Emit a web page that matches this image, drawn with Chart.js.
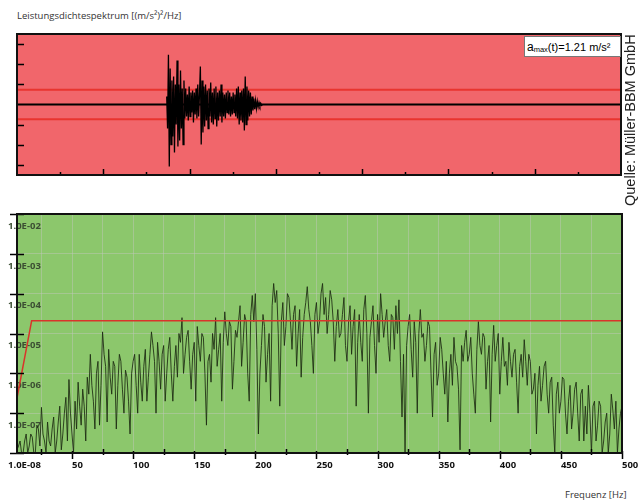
<!DOCTYPE html>
<html>
<head>
<meta charset="utf-8">
<script src="https://cdn.jsdelivr.net/npm/chart.js@4.4.0/dist/chart.umd.min.js"></script>
<style>
  body { margin: 0; background: #fff; }
  #page { position: relative; width: 638px; height: 502px; overflow: hidden; font-family: "Open Sans", sans-serif; }
  #title { position: absolute; left: 17px; top: 11px; font-size: 9.5px; color: #333; line-height: 1; white-space: nowrap; }
  #xlabel { position: absolute; left: 565px; top: 490px; font-size: 9.5px; color: #333; line-height: 1; }
  #source { position: absolute; left: 622px; top: 206px; transform: rotate(-90deg); transform-origin: 0 0;
            white-space: nowrap; font: 14.5px "Liberation Sans", Arial, sans-serif; line-height: 16px; color: #222; }
  #legend { position: absolute; left: 524px; top: 36px; width: 97px; height: 21px; box-sizing: border-box; z-index: 2;
            background: #fff; border: 1px solid #777; font: 11px "Liberation Sans", Arial, sans-serif;
            padding: 3px 0 0 2px; color: #000; white-space: nowrap; }
  #legend sub { font-size: 7.5px; vertical-align: baseline; position: relative; top: 1px; }
  canvas { position: absolute; left: 0; }
</style>
</head>
<body>
<div id="page">
  <div id="title">Leistungsdichtespektrum [(m/s²)²/Hz]</div>
  <canvas id="signal" width="638" height="152" style="top:28px"></canvas>
  <div id="legend"><span style="font-size:12px">a</span><sub>max</sub>(t)=1.21 m/s²</div>
  <canvas id="psd" width="638" height="282" style="top:200px"></canvas>
  <div id="xlabel">Frequenz [Hz]</div>
  <div id="source">Quelle: Müller-BBM GmbH</div>
</div>
<script>
// --- Zeitsignal (oben) ---
const sigStart = 3.47;   // s
const sigStep = 0.02;    // s
const sigValues = [
  0.2, -0.6, 1.24, -1.55,
  0.9, -1.0, 0.6, -0.8, 0.7, -1.2, 0.5,
  -0.5, 1.1, -1.05, 0.5, -0.9, 0.85, -0.6, 0.4, -1.0, 0.6,
  -0.35, 0.4, -0.3, 0.25, -0.4, 0.45, -0.3, 0.3, -0.2, 0.35, -0.45, 0.3, -0.25, 0.4, -0.35, 0.5, -0.3, 0.25,
  0.95, -1.0, 0.6, -0.7,
  0.45, -0.55, 0.5, -0.4, 0.35, -0.6, 0.4, -0.3, 0.55, -0.45, 0.3, -0.5, 0.4, -0.35, 0.45, -0.55, 0.3, -0.4, 0.35, -0.3, 0.5, -0.45, 0.3,
  -0.3, 0.25, -0.35, 0.3, -0.2, 0.35, -0.25, 0.3, -0.3, 0.2, -0.25, 0.3, -0.2, 0.25, -0.3,
  0.4, -0.35, 0.45, -0.5, 0.3, -0.4, 0.35, -0.45, 0.4, -0.65, 0.7, -0.5, 0.45, -0.4, 0.35, -0.3, 0.3, -0.25, 0.2,
  -0.15, 0.15, -0.12, 0.1, -0.1, 0.08, -0.06, 0.05, -0.04, 0.03, -0.02, 0
];
const accLimit = 0.37;
const timeMax = 14;
const timeTicks = [1, 2, 3, 4, 5, 6, 7, 8, 9, 10, 11, 12, 13];
const accTicks = [-1.5, -1, -0.5, 0.5, 1, 1.5];

// --- Leistungsdichtespektrum (unten) ---
const specStart = 5;     // Hz
const specStep = 1.25;   // Hz
const specValues = [
  1.2e-8, 1.5e-8, 2e-8, 1e-8, 1e-8, 2e-8, 3e-8, 1e-8,
  1.5e-8, 3e-8, 2.5e-8, 1e-8, 1e-8, 5e-8, 4e-8, 1.5e-8,
  1.4e-7, 3e-8, 2e-8, 1e-8, 6e-8, 2e-8, 1.5e-8, 4e-8,
  8e-8, 1e-8, 2e-8, 6e-8, 1.5e-7, 1.2e-8, 3e-8, 1e-7,
  2.5e-7, 2e-8, 7e-7, 1e-7, 3e-8, 1e-8, 2e-7, 4e-8,
  6e-7, 1.5e-7, 5e-8, 4e-7, 1.5e-7, 2e-8, 8e-7, 3e-7,
  3e-6, 5e-7, 2e-7, 4e-8, 1e-6, 2e-6, 5e-8, 5e-7,
  1.1e-5, 3e-6, 1.5e-6, 6e-8, 4e-6, 8e-7, 3e-7, 2e-6,
  1.5e-6, 4e-8, 5e-7, 3e-6, 2e-6, 4e-7, 1e-7, 1.2e-6,
  8e-7, 2e-7, 3e-8, 1e-6, 2e-6, 3e-6, 5e-7, 1e-7,
  3e-6, 6e-7, 2e-7, 1.5e-6, 4e-6, 2e-7, 8e-7, 3e-6,
  1.1e-5, 5e-6, 2e-6, 1e-7, 6e-6, 2e-6, 4e-7, 3e-6,
  5e-6, 2e-7, 1e-6, 4e-6, 8e-6, 1e-6, 2e-7, 1.5e-6,
  5e-6, 8e-7, 1e-5, 6e-6, 2.5e-5, 1e-6, 3e-6, 8e-6,
  1.2e-5, 2e-6, 4e-7, 3e-6, 6e-6, 2e-7, 1.5e-5, 5e-6,
  2e-6, 1e-5, 8e-6, 1e-6, 5e-8, 2e-6, 3e-6, 6e-7,
  1e-5, 4e-6, 2.5e-5, 1.5e-6, 4e-6, 1e-5, 2e-7, 6e-6,
  3.5e-5, 1e-5, 5e-6, 2e-5, 1.5e-5, 4e-7, 2e-6, 1.2e-5,
  8e-6, 2e-5, 5e-5, 1.5e-6, 6e-6, 3e-5, 2e-5, 1e-6,
  2e-7, 3e-5, 9e-5, 2e-5, 1e-4, 4e-6, 3e-8, 1e-6,
  5e-6, 3e-5, 1.5e-5, 6e-7, 3e-6, 1e-5, 2e-7, 5e-5,
  1.8e-4, 6e-5, 1.2e-4, 1e-5, 1.5e-7, 2e-5, 6e-5, 5e-6,
  1.5e-5, 1e-4, 8e-5, 2e-5, 4e-6, 3e-5, 5e-5, 1.5e-6,
  1e-5, 4e-5, 8e-7, 8e-6, 3e-5, 6e-5, 1.5e-4, 4e-5,
  2e-5, 5e-6, 1e-6, 3e-5, 6e-5, 1e-5, 2e-5, 1e-4,
  1.8e-4, 3e-5, 8e-5, 1e-5, 3e-5, 1.2e-4, 7e-5, 2e-5,
  2e-6, 1.5e-5, 4e-5, 8e-6, 1e-5, 3e-5, 8e-5, 5e-6,
  2e-6, 2e-5, 5e-5, 3e-6, 1.5e-5, 4e-5, 1.5e-7, 6e-6,
  3e-5, 6e-6, 2e-6, 4e-5, 9e-5, 1e-5, 1e-7, 8e-6,
  2e-5, 5e-5, 5e-6, 1e-6, 3e-5, 6e-6, 1e-4, 3e-5,
  8e-6, 2e-5, 4e-5, 5e-6, 2e-6, 3e-5, 2.5e-5, 4e-6,
  5e-5, 1e-5, 7e-5, 2e-6, 8e-8, 3e-6, 1e-8, 5e-6,
  1.5e-5, 3e-5, 4e-6, 8e-7, 2e-5, 6e-6, 1e-7, 1e-5,
  4e-5, 8e-6, 1e-5, 2e-6, 5e-6, 2e-5, 1.5e-5, 1e-6,
  8e-8, 3e-6, 6e-6, 5e-7, 1e-6, 8e-6, 4e-6, 1e-6,
  3e-7, 2e-6, 6e-8, 1e-6, 3e-6, 5e-7, 8e-6, 2e-6,
  1.5e-6, 4e-7, 1.2e-8, 5e-6, 2e-6, 6e-6, 1.2e-5, 2e-6,
  3e-6, 8e-6, 1e-6, 3e-7, 1e-7, 4e-6, 2e-5, 5e-6,
  3e-6, 1e-5, 8e-6, 4e-7, 2e-6, 5e-6, 6e-8, 3e-6,
  1.6e-5, 2e-6, 5e-6, 1e-5, 3e-7, 2e-6, 8e-6, 1.5e-6,
  2e-6, 5e-7, 6e-6, 2e-6, 8e-7, 3e-6, 4e-6, 6e-7,
  1e-7, 1.5e-6, 3e-6, 8e-7, 7e-6, 2e-6, 5e-7, 3e-6,
  2e-6, 3e-7, 4e-7, 1e-6, 3e-8, 5e-7, 1.5e-6, 2e-7,
  5e-7, 1.5e-6, 2e-6, 3e-7, 1e-7, 6e-7, 8e-7, 5e-8,
  1e-8, 3e-7, 6e-7, 1e-7, 2e-7, 8e-7, 7e-7, 1e-7,
  3e-8, 2e-7, 5e-7, 4e-8, 1e-7, 4e-7, 6e-7, 1e-7,
  2e-8, 3e-7, 4e-7, 2e-8, 1.5e-7, 3e-8, 5e-7, 1e-7,
  1e-8, 1.5e-7, 2e-7, 2e-8, 5e-8, 2e-7, 1.5e-7, 1e-8,
  2e-8, 6e-8, 1e-7, 1e-8, 3e-8, 3e-7, 1.2e-7, 4e-8,
  2e-7, 1e-8, 4e-8, 1e-7, 1.5e-7
];
const limitFreq = [5, 17, 500];
const limitPsd = [2.4e-7, 2.1e-5, 2.1e-5];
const freqTicks = [25, 50, 75, 100, 125, 150, 175, 200, 225, 250, 275, 300, 325, 350, 375, 400, 425, 450, 475, 500];
const freqLabels = ['', '50', '', '100', '', '150', '', '200', '', '250', '', '300', '', '350', '', '400', '', '450', '', '500'];
const psdTicks = [1e-8, 1e-7, 1e-6, 1e-5, 1e-4, 1e-3, 1e-2];
const psdLabels = ['1.0E-08', '1.0E-07', '1.0E-06', '1.0E-05', '1.0E-04', '1.0E-03', '1.0E-02'];

// Hintergrund, Rahmen und innenliegende Striche
function panel(fill, yTicks, yOut, yIn, xTicks, xLen) {
  return {
    id: 'panel',
    beforeDraw(chart) {
      const { ctx, chartArea: a } = chart;
      ctx.save();
      ctx.fillStyle = fill;
      ctx.fillRect(a.left, a.top, a.width, a.height);
      ctx.restore();
    },
    afterDraw(chart) {
      const { ctx, chartArea: a, scales } = chart;
      ctx.save();
      ctx.strokeStyle = '#000';
      ctx.lineWidth = 1.5;
      ctx.beginPath();
      yTicks.forEach(v => {
        const y = Math.round(scales.y.getPixelForValue(v)) + 0.5;
        ctx.moveTo(a.left - yOut, y);
        ctx.lineTo(a.left + yIn, y);
      });
      xTicks.forEach((v, i) => {
        const x = Math.round(scales.x.getPixelForValue(v)) + 0.5;
        const l = xLen(i);
        ctx.moveTo(x, a.bottom + l[0]);
        ctx.lineTo(x, a.bottom - l[1]);
      });
      ctx.stroke();
      ctx.lineWidth = 2;
      ctx.strokeStyle = '#111';
      ctx.strokeRect(a.left, a.top, a.width, a.height);
      ctx.restore();
    }
  };
}

new Chart(document.getElementById('signal'), {
  type: 'line',
  data: {
    datasets: [
      {
        data: sigValues.map((v, i) => ({ x: sigStart + i * sigStep, y: v })),
        borderColor: '#000', borderWidth: 1.3
      },
      {
        data: [{ x: 0, y: 0 }, { x: timeMax, y: 0 }],
        borderColor: '#000', borderWidth: 2
      },
      {
        data: [{ x: 0, y: accLimit }, { x: timeMax, y: accLimit }],
        borderColor: '#e8352f', borderWidth: 2
      },
      {
        data: [{ x: 0, y: -accLimit }, { x: timeMax, y: -accLimit }],
        borderColor: '#e8352f', borderWidth: 2
      }
    ]
  },
  options: {
    responsive: false,
    animation: false,
    layout: { padding: { top: 6, left: 17, right: 17, bottom: 5 } },
    elements: { point: { radius: 0 }, line: { tension: 0 } },
    plugins: { legend: { display: false }, tooltip: { enabled: false } },
    scales: {
      x: { type: 'linear', min: 0, max: timeMax, display: false },
      y: { min: -1.76, max: 1.76, display: false }
    }
  },
  plugins: [panel('#f1666b', accTicks, 0, 7, timeTicks, i => (i % 2 ? [0, 6] : [0, 3]))]
});

new Chart(document.getElementById('psd'), {
  type: 'line',
  data: {
    datasets: [
      {
        data: limitFreq.map((f, i) => ({ x: f, y: limitPsd[i] })),
        borderColor: '#d9342a', borderWidth: 1.5
      },
      {
        data: specValues.map((v, i) => ({ x: specStart + i * specStep, y: v })),
        borderColor: 'rgba(28,42,18,0.85)', borderWidth: 1
      }
    ]
  },
  options: {
    responsive: false,
    animation: false,
    layout: { padding: { top: 14, left: 0, right: 16, bottom: 0 } },
    elements: { point: { radius: 0 }, line: { tension: 0 } },
    plugins: { legend: { display: false }, tooltip: { enabled: false } },
    scales: {
      x: {
        type: 'linear', min: 5, max: 500,
        afterBuildTicks: s => { s.ticks = freqTicks.map(v => ({ value: v })); },
        afterFit: s => { s.height = 29; s.paddingLeft = 0; s.paddingRight = 0; },
        border: { display: false },
        grid: { color: 'rgba(195,200,190,0.45)', lineWidth: 1, drawTicks: false },
        ticks: {
          autoSkip: false, maxRotation: 0, align: 'start', padding: 7,
          color: '#111', font: { family: 'Open Sans', weight: 'bold', size: 9.5 },
          callback: (v, i) => freqLabels[i]
        }
      },
      y: {
        type: 'logarithmic', min: 1e-8, max: 1e-2,
        afterBuildTicks: s => { s.ticks = psdTicks.map(v => ({ value: v })); },
        afterFit: s => { s.width = 17; s.paddingTop = 0; s.paddingBottom = 0; },
        border: { display: false },
        grid: { color: 'rgba(195,200,190,0.45)', lineWidth: 1, drawTicks: false },
        ticks: {
          autoSkip: false, mirror: true, padding: -9, labelOffset: 12,
          color: c => (c.index === 0 ? '#111' : '#3c4f33'),
          font: { family: 'Open Sans', weight: 'bold', size: 9.5 },
          callback: (v, i) => psdLabels[i]
        }
      }
    }
  },
  plugins: [panel('#8cc76c', psdTicks, 7, 7, freqTicks, i => (i % 2 ? [6, 2] : [2, 4]))]
});
</script>
</body>
</html>
